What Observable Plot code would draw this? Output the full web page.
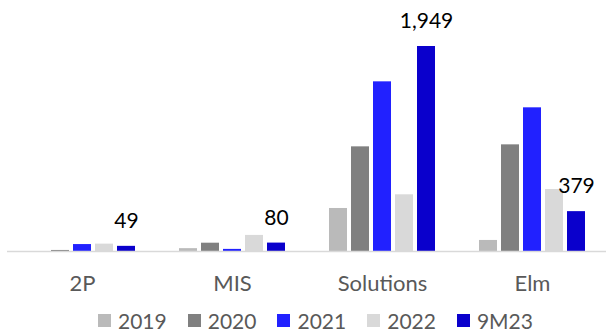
<!DOCTYPE html>
<html>
<head>
<meta charset="utf-8">
<script src="https://cdn.jsdelivr.net/npm/d3@7"></script>
<script src="https://cdn.jsdelivr.net/npm/@observablehq/plot@0.6"></script>
<style>
  html, body { margin: 0; padding: 0; background: #fff; }
  #chart { width: 606px; font-family: Lato, "Open Sans", sans-serif; }
  #chart svg { display: block; }
  .legend {
    display: flex;
    align-items: center;
    gap: 21px;
    margin-left: 98px;
    margin-top: 8px;
    height: 24px;
    font-size: 21px;
    color: #595959;
  }
  .legend .item { display: flex; align-items: center; gap: 7px; }
  .legend .swatch { width: 13px; height: 13px; }
</style>
</head>
<body>
<div id="chart"></div>
<script>
// Segments on the category axis and reporting periods per segment
const categories = ["2P", "MIS", "Solutions", "Elm"];
const series = ["2019", "2020", "2021", "2022", "9M23"];
const colors = ["#bababa", "#808080", "#2121ff", "#d9d9d9", "#0a00cc"];

// Values per period, in category order
const v2019 = [0, 27, 409, 105];
const v2020 = [10, 79, 995, 1014];
const v2021 = [66, 20, 1613, 1366];
const v2022 = [70, 153, 539, 589];
const v9M23 = [49, 80, 1949, 379];

// Only the latest period carries a value label
const labelled = "9M23";

const valuesBySeries = [v2019, v2020, v2021, v2022, v9M23];
const rows = [];
categories.forEach((category, i) => {
  series.forEach((s, j) => {
    rows.push({category, series: s, value: valuesBySeries[j][i]});
  });
});

const fmt = d3.format(",");

const chart = Plot.plot({
  width: 606,
  height: 300,
  marginLeft: 0,
  marginRight: 0,
  marginTop: 0,
  marginBottom: 49,
  style: {fontFamily: "Lato, 'Open Sans', sans-serif", fontSize: "22px", color: "#595959", background: "white", overflow: "visible"},
  fx: {domain: categories, range: [5.6, 608.4], padding: 0, label: null, axis: "bottom", tickSize: 0, tickPadding: 24},
  x: {domain: series, paddingInner: 0.2, paddingOuter: 0.876, axis: null},
  y: {domain: [0, 1949], range: [251, 46], axis: null},
  color: {domain: series, range: colors},
  marks: [
    Plot.barY(rows, {fx: "category", x: "series", y: "value", fill: "series"}),
    Plot.ruleY([0], {stroke: "#d9d9d9", strokeWidth: 1.5}),
    Plot.text(rows.filter(d => d.series === labelled), {
      fx: "category", x: "series", y: "value",
      text: d => fmt(d.value),
      dy: -25, fontSize: 21, fill: "black"
    })
  ]
});

const root = document.getElementById("chart");
root.appendChild(chart);

// Legend row below the plot
const legend = document.createElement("div");
legend.className = "legend";
series.forEach((s, j) => {
  const item = document.createElement("div");
  item.className = "item";
  const sw = document.createElement("span");
  sw.className = "swatch";
  sw.style.background = colors[j];
  const label = document.createElement("span");
  label.textContent = s;
  item.appendChild(sw);
  item.appendChild(label);
  legend.appendChild(item);
});
root.appendChild(legend);
</script>
</body>
</html>
